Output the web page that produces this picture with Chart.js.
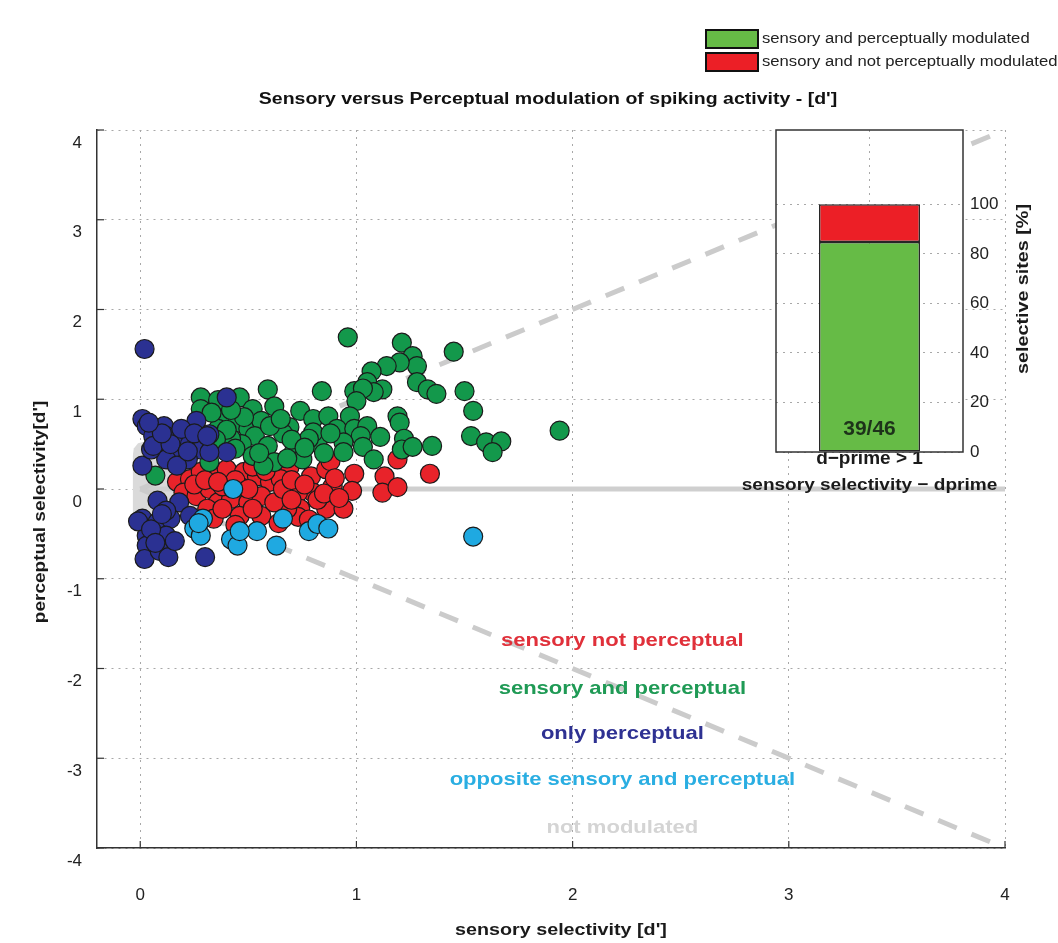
<!DOCTYPE html>
<html>
<head>
<meta charset="utf-8">
<title>Sensory versus Perceptual modulation of spiking activity</title>
<script src="https://cdn.jsdelivr.net/npm/chart.js@4.4.1/dist/chart.umd.min.js"></script>
<style>
    html, body { margin: 0; padding: 0; background: #ffffff; }
    #wrap { position: relative; width: 1058px; height: 943px; }
    #mainChart { position: absolute; left: 0; top: 0; }
    #insetChart { position: absolute; left: 700px; top: 100px; }
</style>
</head>
<body>
<div id="wrap">
    <canvas id="mainChart" width="1058" height="943"></canvas>
    <canvas id="insetChart" width="358" height="400"></canvas>
</div>
<script>
// [sensory d', perceptual d'] per recording site
var sensoryAndPerceptual = [
    [0.07, 0.15], [0.28, 1.02], [0.36, 0.99], [0.46, 1.02], [0.59, 1.11], [0.62, 0.92], [0.52, 0.89],
    [0.37, 0.78], [0.45, 0.74], [0.50, 0.67], [0.56, 0.76], [0.53, 0.59], [0.47, 0.50], [0.52, 0.37],
    [0.59, 0.48], [0.62, 0.30], [0.57, 0.26], [0.36, 0.67], [0.32, 0.30], [0.28, 0.89], [0.42, 0.56],
    [0.96, 1.69], [1.21, 1.63], [1.26, 1.48], [1.28, 1.37], [1.20, 1.41], [1.14, 1.37], [1.07, 1.31],
    [1.05, 1.19], [1.12, 1.11], [1.08, 1.08], [0.99, 1.09], [1.03, 1.12], [1.00, 0.98], [1.28, 1.19],
    [1.33, 1.11], [1.37, 1.06], [1.19, 0.81], [1.20, 0.74], [1.22, 0.56], [1.21, 0.44], [1.26, 0.47],
    [1.35, 0.48], [0.84, 1.09], [0.74, 0.87], [0.80, 0.78], [0.87, 0.81], [0.97, 0.81], [0.91, 0.67],
    [0.99, 0.67], [1.05, 0.70], [1.11, 0.58], [1.02, 0.59], [0.94, 0.52], [0.82, 0.52], [0.69, 0.69],
    [0.71, 0.41], [0.75, 0.33], [0.80, 0.63], [0.94, 0.41], [1.03, 0.47], [1.08, 0.33], [0.78, 0.56],
    [1.45, 1.53], [1.50, 1.09], [1.54, 0.87], [1.53, 0.59], [1.60, 0.52], [1.67, 0.53], [1.63, 0.41],
    [1.94, 0.65], [0.40, 0.66], [0.44, 0.45], [0.66, 0.62], [0.70, 0.55], [0.48, 0.80], [0.55, 0.40],
    [0.85, 0.40], [0.88, 0.62], [0.76, 0.46], [0.68, 0.34], [0.60, 0.70], [0.42, 0.88], [0.35, 0.55],
    [0.33, 0.85], [0.65, 0.78]
];
var sensoryNotPerceptual = [
    [0.17, 0.08], [0.23, 0.11], [0.28, 0.19], [0.34, 0.15], [0.40, 0.22], [0.48, 0.19], [0.54, 0.14],
    [0.60, 0.08], [0.20, -0.04], [0.26, -0.08], [0.32, 0.00], [0.36, -0.15], [0.42, -0.11], [0.50, -0.15],
    [0.56, -0.08], [0.31, -0.22], [0.34, -0.33], [0.46, -0.30], [0.56, -0.30], [0.38, 0.03], [0.46, 0.03],
    [0.69, 0.24], [0.79, 0.14], [0.86, 0.22], [0.88, 0.31], [0.99, 0.17], [1.13, 0.14], [1.34, 0.17],
    [1.19, 0.33], [1.12, -0.04], [1.19, 0.02], [0.98, -0.02], [0.89, 0.03], [0.80, -0.04], [0.73, -0.04],
    [0.74, -0.22], [0.86, -0.22], [0.94, -0.22], [0.73, -0.31], [0.68, -0.22], [0.65, 0.11], [0.25, 0.05],
    [0.30, 0.10], [0.44, 0.10], [0.50, 0.00], [0.52, 0.25], [0.62, -0.15], [0.66, 0.00], [0.70, 0.10],
    [0.76, 0.05], [0.82, -0.12], [0.38, -0.22], [0.44, -0.40], [0.64, -0.38], [0.78, -0.34], [0.90, 0.12],
    [0.85, -0.05], [0.52, -0.22], [0.58, 0.20], [0.36, 0.08], [0.92, -0.10], [0.70, -0.12]
];
var onlyPerceptual = [
    [0.02, 1.56], [0.01, 0.78], [0.03, 0.70], [0.11, 0.70], [0.06, 0.59], [0.09, 0.52], [0.12, 0.59],
    [0.15, 0.37], [0.12, 0.33], [0.20, 0.55], [0.23, 0.50], [0.26, 0.76], [0.32, 0.61], [0.40, 1.02],
    [0.28, 0.44], [0.22, 0.33], [0.17, 0.26], [0.01, 0.26], [0.40, 0.41], [0.32, 0.41], [0.05, 0.44],
    [0.19, 0.67], [0.08, -0.13], [0.18, -0.15], [0.01, -0.33], [0.08, -0.37], [0.14, -0.33], [0.12, -0.24],
    [0.03, -0.52], [0.12, -0.52], [0.03, -0.63], [0.02, -0.78], [0.09, -0.69], [0.13, -0.76], [0.30, -0.76],
    [-0.01, -0.36], [0.23, -0.30], [0.06, 0.48], [0.14, 0.50], [0.25, 0.62], [0.10, 0.62], [0.22, 0.42],
    [0.05, -0.45], [0.10, -0.28], [0.16, -0.58], [0.07, -0.60], [0.04, 0.74], [0.31, 0.59]
];
var oppositeSensoryPerceptual = [
    [0.43, 0.00], [0.29, -0.33], [0.25, -0.44], [0.28, -0.52], [0.42, -0.56], [0.45, -0.63], [0.54, -0.47],
    [0.46, -0.47], [0.63, -0.63], [0.66, -0.33], [0.78, -0.47], [0.82, -0.39], [0.87, -0.44], [1.54, -0.53],
    [0.27, -0.38]
];

// reference shapes
var notModulatedZone = [[-0.035, 0.36], [-0.03, 0.45], [-0.01, 0.51], [0.04, 0.54], [0.30, 0.54]];
var notModulatedFloor = -0.3;
var unityLine = [[0, 0], [4, 4]];
var mirrorLine = [[0, 0], [4, -4]];
var zeroLine = [[0, 0], [4, 0]];

// inset bar: share of sites with d-prime > 1
var barLabels = ['d\u2212prime > 1'];
var modulatedSites = 39;
var selectiveSites = 46;
var modulatedPct = [modulatedSites / selectiveSites * 100];
var notModulatedPct = [100 - modulatedSites / selectiveSites * 100];

var categoryNames = ['sensory not perceptual', 'sensory and perceptual', 'only perceptual',
    'opposite sensory and perceptual', 'not modulated'];
var categoryColors = ['#e0303a', '#1f9a55', '#2e3192', '#2aaee2', '#d4d4d4'];
var legendNames = ['sensory and perceptually modulated', 'sensory and not perceptually modulated'];

var FONT = "'Liberation Sans', Arial, sans-serif";
Chart.defaults.font.family = FONT;

function pts(list) {
    return list.map(function (p) { return { x: p[0], y: p[1] }; });
}

// text drawn with a horizontal stretch (the source figure is widened)
function drawText(c, text, x, y, font, color, sx, align, rot) {
    c.save();
    c.translate(x, y);
    if (rot) c.rotate(rot);
    c.scale(sx, 1);
    c.font = font;
    c.fillStyle = color;
    c.textAlign = align || 'center';
    c.textBaseline = 'middle';
    c.fillText(text, 0, 0);
    c.restore();
}

const mainDecor = {
    id: 'mainDecor',
    afterDraw(chart) {
        const c = chart.ctx, a = chart.chartArea, xs = chart.scales.x, ys = chart.scales.y;

        // inward tick marks
        c.save();
        c.strokeStyle = '#333';
        c.lineWidth = 1.2;
        xs.ticks.forEach(t => {
            const px = xs.getPixelForValue(t.value);
            c.beginPath(); c.moveTo(px, a.bottom); c.lineTo(px, a.bottom - 7); c.stroke();
        });
        ys.ticks.forEach(t => {
            const py = ys.getPixelForValue(t.value);
            c.beginPath(); c.moveTo(a.left, py); c.lineTo(a.left + 7, py); c.stroke();
        });
        c.restore();

        // title
        drawText(c, "Sensory versus Perceptual modulation of spiking activity - [d']",
            (a.left + a.right) / 2 - 3, a.top - 30, 'bold 16px ' + FONT, '#111', 1.22);

        // legend (for the inset bar)
        var boxColors = ['#66bb46', '#ec1f26'];
        for (var i = 0; i < 2; i++) {
            var by = 30 + i * 23;
            c.fillStyle = boxColors[i];
            c.fillRect(706, by, 52, 18);
            c.strokeStyle = '#111';
            c.lineWidth = 2;
            c.strokeRect(706, by, 52, 18);
            drawText(c, legendNames[i], 762, by + 9, '14px ' + FONT, '#222', 1.19, 'left');
        }

        // axis titles
        drawText(c, "sensory selectivity [d']", 561, 930, 'bold 17px ' + FONT, '#1a1a1a', 1.16);
        drawText(c, "perceptual selectivity[d']", 40, 512, 'bold 17px ' + FONT, '#1a1a1a', 1.12, 'center', -Math.PI / 2);

        // category key inside the plot
        var keyX = xs.getPixelForValue(2.23);
        var keyY = [-1.69, -2.23, -2.73, -3.24, -3.77];
        for (var k = 0; k < categoryNames.length; k++) {
            drawText(c, categoryNames[k], keyX, ys.getPixelForValue(keyY[k]), 'bold 19px ' + FONT,
                categoryColors[k], 1.16);
        }
    }
};

var pointStyle = function (color, order, label, list) {
    return {
        label: label,
        data: pts(list),
        backgroundColor: color,
        borderColor: '#1b1b1b',
        borderWidth: 1.2,
        pointRadius: 9.5,
        order: order
    };
};

var gridStyle = { color: '#a8a8a8', lineWidth: 1, drawTicks: false };

var mainChart = new Chart(document.getElementById('mainChart').getContext('2d'), {
    type: 'scatter',
    data: {
        datasets: [
            {
                type: 'line', data: pts(notModulatedZone), fill: { target: { value: notModulatedFloor } },
                backgroundColor: '#dadada', borderColor: 'rgba(0,0,0,0)', borderWidth: 0, pointRadius: 0, order: 20
            },
            {
                type: 'line', data: pts(zeroLine), borderColor: '#cfcfcf', borderWidth: 5,
                pointRadius: 0, fill: false, order: 19
            },
            {
                type: 'line', data: pts(unityLine), borderColor: '#cbcbcb', borderWidth: 5, borderDash: [20, 16],
                pointRadius: 0, fill: false, order: 18
            },
            {
                type: 'line', data: pts(mirrorLine), borderColor: '#cbcbcb', borderWidth: 5, borderDash: [20, 16],
                pointRadius: 0, fill: false, order: 17
            },
            pointStyle('#e8232a', 4, 'sensory not perceptual', sensoryNotPerceptual),
            pointStyle('#13984b', 3, 'sensory and perceptual', sensoryAndPerceptual),
            pointStyle('#2b3192', 2, 'only perceptual', onlyPerceptual),
            pointStyle('#1fa9e1', 1, 'opposite sensory and perceptual', oppositeSensoryPerceptual)
        ]
    },
    options: {
        responsive: false,
        animation: false,
        events: [],
        layout: { padding: { top: 130, right: 53, left: 0, bottom: 0 } },
        scales: {
            x: {
                type: 'linear',
                min: -0.2,
                max: 4,
                ticks: { stepSize: 1, includeBounds: false, padding: 37, color: '#222', font: { size: 17 } },
                grid: gridStyle,
                border: { display: true, color: '#333', width: 1.5, dash: [2, 5] },
                afterFit: function (scale) { scale.height = 95; }
            },
            y: {
                min: -4,
                max: 4,
                ticks: { stepSize: 1, padding: 15, labelOffset: 13, color: '#222', font: { size: 17 } },
                grid: gridStyle,
                border: { display: true, color: '#333', width: 1.5, dash: [2, 5] },
                afterFit: function (scale) { scale.width = 97; }
            }
        },
        plugins: {
            legend: { display: false },
            tooltip: { enabled: false }
        }
    },
    plugins: [mainDecor]
});

const insetDecor = {
    id: 'insetDecor',
    beforeDraw(chart) {
        const c = chart.ctx, a = chart.chartArea;
        c.save();
        c.fillStyle = '#ffffff';
        c.fillRect(a.left, a.top, a.right - a.left, a.bottom - a.top);
        c.restore();
    },
    afterDraw(chart) {
        const c = chart.ctx, a = chart.chartArea, xs = chart.scales.x;
        c.save();
        c.strokeStyle = '#333';
        c.lineWidth = 1.5;
        c.strokeRect(a.left, a.top, a.right - a.left, a.bottom - a.top);
        c.restore();
        var cx = xs.getPixelForValue(0);
        drawText(c, modulatedSites + '/' + selectiveSites, cx, a.bottom - 23, 'bold 21px ' + FONT, '#1d321a', 1);
        drawText(c, 'sensory selectivity \u2212 dprime', cx, 385, 'bold 17px ' + FONT, '#1a1a1a', 1.12);
        drawText(c, 'selective sites [%]', a.right + 60, a.top + 159, 'bold 17px ' + FONT, '#1a1a1a', 1.16, 'center', -Math.PI / 2);
    }
};

var insetChart = new Chart(document.getElementById('insetChart').getContext('2d'), {
    type: 'bar',
    data: {
        labels: barLabels,
        datasets: [
            {
                label: legendNames[0], data: modulatedPct, backgroundColor: '#66bb46',
                borderColor: '#262626', borderWidth: 1.5, borderSkipped: false,
                barPercentage: 0.54, categoryPercentage: 1
            },
            {
                label: legendNames[1], data: notModulatedPct, backgroundColor: '#ec1f26',
                borderColor: '#262626', borderWidth: 1.5, borderSkipped: false,
                barPercentage: 0.54, categoryPercentage: 1
            }
        ]
    },
    options: {
        responsive: false,
        animation: false,
        events: [],
        layout: { padding: { left: 76, top: 30, right: 0, bottom: 0 } },
        scales: {
            x: {
                stacked: true,
                grid: { offset: false, color: '#a8a8a8', drawTicks: false },
                border: { display: false, dash: [2, 5] },
                ticks: { color: '#1a1a1a', padding: -3, font: { size: 19, weight: 'bold', lineHeight: 1 } },
                afterFit: function (scale) { scale.height = 48; }
            },
            y: {
                stacked: true,
                position: 'right',
                min: 0,
                max: 130,
                ticks: { stepSize: 20, padding: 7, color: '#222', font: { size: 17 } },
                afterBuildTicks: function (scale) {
                    scale.ticks = scale.ticks.filter(function (t) { return t.value <= 100; });
                },
                grid: { color: '#a8a8a8', drawTicks: false },
                border: { display: false, dash: [2, 5] },
                afterFit: function (scale) { scale.width = 95; }
            }
        },
        plugins: {
            legend: { display: false },
            tooltip: { enabled: false }
        }
    },
    plugins: [insetDecor]
});
</script>
</body>
</html>
